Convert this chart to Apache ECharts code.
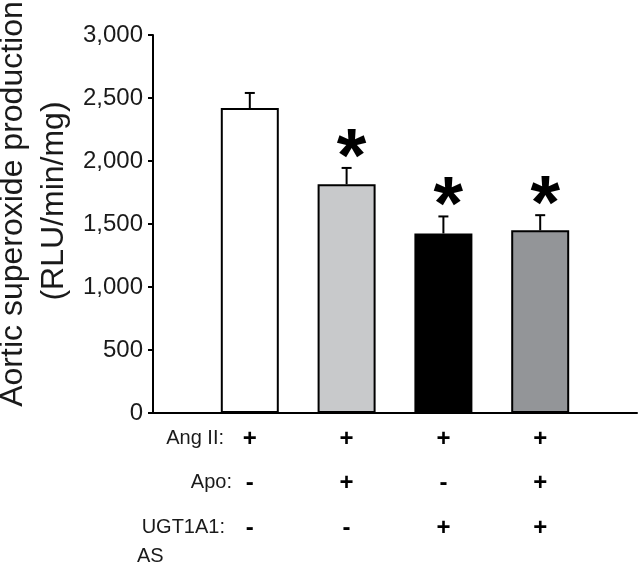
<!DOCTYPE html>
<html>
<head>
<meta charset="utf-8">
<script src="https://cdn.jsdelivr.net/npm/echarts@6/dist/echarts.min.js"></script>
<style>html,body{margin:0;padding:0;background:#fff;}#c{width:640px;height:565px;}</style>
</head>
<body>
<div id="c"></div>
<script>
// ---- data ----
const groups = ['Ang II', 'Ang II + Apo', 'Ang II + UGT1A1 AS', 'Ang II + Apo + UGT1A1 AS'];
const means = [2420, 1815, 1425, 1450];
const errTops = [2540, 1945, 1560, 1570];
const angII = ['+', '+', '+', '+'];
const apo = ['-', '+', '-', '+'];
const ugt = ['-', '-', '+', '+'];
const sig = ['', '*', '*', '*'];
const barColors = ['#ffffff', '#c8c9cb', '#000000', '#939598'];
const yMin = 0, yMax = 3000, yInterval = 500;
const yTitle = ['Aortic superoxide production', '(RLU/min/mg)'];
const rowNames = ['Ang II:', 'Apo:', 'UGT1A1:', 'AS'];

const FONT = '"Liberation Sans", Arial, Helvetica, sans-serif';
const cats = [''].concat(groups, ['']);
const barData = ['-'].concat(means.map((v, i) => ({
  value: v,
  itemStyle: { color: barColors[i] }
})), ['-']);
const errData = means.map((v, i) => [i + 1, v, errTops[i], sig[i]]);

const chart = echarts.init(document.getElementById('c'), null, { renderer: 'canvas' });
chart.setOption({
  animation: false,
  backgroundColor: '#fff',
  grid: { left: 153, right: 0, top: 35, bottom: 152, containLabel: false },
  xAxis: {
    type: 'category',
    data: cats,
    boundaryGap: false,
    axisLine: { lineStyle: { color: '#000', width: 2 } },
    axisTick: { show: false },
    splitLine: { show: false },
    axisLabel: {
      interval: 0,
      margin: 4,
      fontFamily: FONT,
      fontSize: 24,
      fontWeight: 'bold',
      color: '#000',
      lineHeight: 44.5,
      formatter: function (v, idx) {
        const i = idx - 1;
        if (i < 0 || i >= groups.length) return '';
        return angII[i] + '\n' + apo[i] + '\n' + ugt[i];
      }
    }
  },
  yAxis: {
    type: 'value',
    min: yMin, max: yMax, interval: yInterval,
    axisLine: { show: true, lineStyle: { color: '#000', width: 2 } },
    axisTick: { show: true, length: 5, lineStyle: { color: '#000', width: 2 } },
    splitLine: { show: false },
    axisLabel: {
      margin: 10,
      fontFamily: FONT,
      fontSize: 24,
      color: '#1a1a1a',
      formatter: function (v) { return v.toLocaleString('en-US'); }
    }
  },
  graphic: [
    { type: 'text', x: 13, y: 204, rotation: Math.PI / 2,
      style: { text: yTitle[0], font: '32px ' + FONT, fill: '#1a1a1a', textAlign: 'center', textVerticalAlign: 'middle' } },
    { type: 'text', x: 54, y: 201, rotation: Math.PI / 2,
      style: { text: yTitle[1], font: '32px ' + FONT, fill: '#1a1a1a', textAlign: 'center', textVerticalAlign: 'middle' } },
    { type: 'text', x: 224, y: 438,
      style: { text: rowNames[0], font: '20px ' + FONT, fill: '#1a1a1a', textAlign: 'right', textVerticalAlign: 'middle' } },
    { type: 'text', x: 232, y: 482,
      style: { text: rowNames[1], font: '20px ' + FONT, fill: '#1a1a1a', textAlign: 'right', textVerticalAlign: 'middle' } },
    { type: 'text', x: 225, y: 527,
      style: { text: rowNames[2], font: '20px ' + FONT, fill: '#1a1a1a', textAlign: 'right', textVerticalAlign: 'middle' } },
    { type: 'text', x: 137, y: 556,
      style: { text: rowNames[3], font: '20px ' + FONT, fill: '#1a1a1a', textAlign: 'left', textVerticalAlign: 'middle' } }
  ],
  series: [
    {
      type: 'bar',
      data: barData,
      barWidth: 58,
      itemStyle: { borderColor: '#000', borderWidth: 2 },
      z: 2
    },
    {
      type: 'custom',
      data: errData,
      encode: { x: 0, y: 2 },
      z: 3,
      renderItem: function (params, api) {
        const x = api.value(0);
        const top = api.coord([x, api.value(2)]);
        const base = api.coord([x, api.value(1)]);
        const capHalf = 5;
        const children = [
          { type: 'line', shape: { x1: top[0], y1: base[1], x2: top[0], y2: top[1] },
            style: { stroke: '#000', lineWidth: 2 } },
          { type: 'line', shape: { x1: top[0] - capHalf, y1: top[1], x2: top[0] + capHalf, y2: top[1] },
            style: { stroke: '#000', lineWidth: 2 } }
        ];
        const s = api.value(3);
        if (s) {
          children.push({ type: 'text', x: top[0] + 5, y: top[1] + 30,
            style: { text: s, font: 'bold 76px ' + FONT, fill: '#000', textAlign: 'center', textVerticalAlign: 'bottom' } });
        }
        return { type: 'group', children: children };
      }
    }
  ]
});
</script>
</body>
</html>
